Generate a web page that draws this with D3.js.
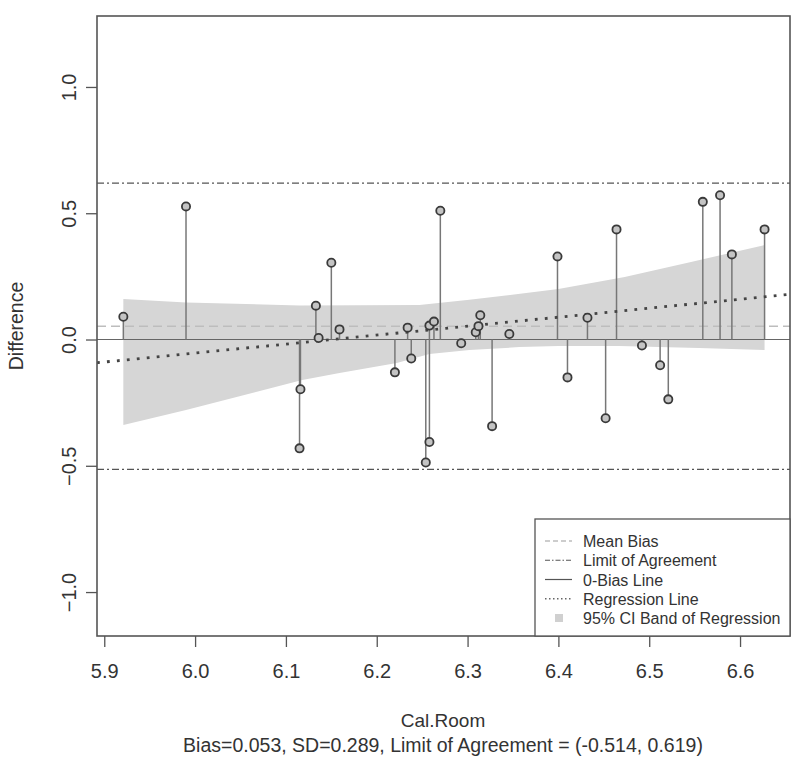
<!DOCTYPE html>
<html>
<head>
<meta charset="utf-8">
<script src="https://cdn.jsdelivr.net/npm/d3@7"></script>
<style>
  body { margin: 0; background: #fff; }
  svg text { font-family: "Liberation Sans", Arial, sans-serif; fill: #333; }
</style>
</head>
<body>
<svg id="chart" width="800" height="760"></svg>
<script>
// ---- data ----
const xVals = [5.921, 5.990, 6.115, 6.116, 6.133, 6.136, 6.150, 6.159, 6.220, 6.234, 6.238, 6.254, 6.258, 6.258, 6.263, 6.270, 6.293, 6.309, 6.312, 6.314, 6.327, 6.346, 6.399, 6.410, 6.432, 6.452, 6.464, 6.492, 6.512, 6.521, 6.559, 6.578, 6.591, 6.627];
const yVals = [0.090, 0.527, -0.431, -0.197, 0.134, 0.006, 0.304, 0.040, -0.130, 0.047, -0.075, -0.487, -0.406, 0.055, 0.071, 0.510, -0.015, 0.029, 0.053, 0.096, -0.343, 0.022, 0.329, -0.150, 0.086, -0.312, 0.436, -0.024, -0.102, -0.237, 0.545, 0.571, 0.337, 0.436];
const bandUpperX = [5.921, 5.990, 6.115, 6.247, 6.302, 6.400, 6.473, 6.546, 6.627];
const bandUpperY = [0.160, 0.147, 0.135, 0.137, 0.157, 0.200, 0.248, 0.307, 0.374];
const bandLowerX = [5.921, 5.990, 6.118, 6.159, 6.222, 6.258, 6.302, 6.357, 6.400, 6.467, 6.555, 6.627];
const bandLowerY = [-0.339, -0.279, -0.160, -0.133, -0.093, -0.057, -0.042, -0.030, -0.026, -0.026, -0.034, -0.042];
const regX = [5.892, 6.655];
const regY = [-0.092, 0.179];
const meanBias = 0.053;
const limits = [-0.514, 0.619];
const xTicks = [5.9, 6.0, 6.1, 6.2, 6.3, 6.4, 6.5, 6.6];
const yTicks = [-1.0, -0.5, 0.0, 0.5, 1.0];
const legendLabels = ["Mean Bias", "Limit of Agreement", "0-Bias Line", "Regression Line", "95% CI Band of Regression"];
const xTitle = "Cal.Room";
const yTitle = "Difference";
const subTitle = "Bias=0.053, SD=0.289, Limit of Agreement = (-0.514, 0.619)";

// ---- layout ----
const L = 97, R = 790, T = 16, B = 636;
const svg = d3.select("#chart");
const x = d3.scaleLinear().domain([5.892, 6.655]).range([L, R]);
const y = d3.scaleLinear().domain([-1.174, 1.281]).range([B, T]);

const g = svg.append("g");
g.append("clipPath").attr("id", "clip").append("rect")
  .attr("x", L).attr("y", T).attr("width", R - L).attr("height", B - T);
const plot = g.append("g").attr("clip-path", "url(#clip)");

// CI band
const bandPts = bandUpperX.map((d, i) => [x(d), y(bandUpperY[i])])
  .concat(bandLowerX.map((d, i) => [x(d), y(bandLowerY[i])]).reverse());
plot.append("path")
  .attr("d", d3.line()(bandPts) + "Z")
  .attr("fill", "#d6d6d6").attr("stroke", "none");

// limits of agreement
limits.forEach(v => {
  plot.append("line").attr("x1", L).attr("x2", R).attr("y1", y(v)).attr("y2", y(v))
    .attr("stroke", "#555").attr("stroke-width", 1.3).attr("stroke-dasharray", "7,3,2,3");
});
// mean bias
plot.append("line").attr("x1", L).attr("x2", R).attr("y1", y(meanBias)).attr("y2", y(meanBias))
  .attr("stroke", "#bdbdbd").attr("stroke-width", 1.5).attr("stroke-dasharray", "9,5");
// zero line
plot.append("line").attr("x1", L).attr("x2", R).attr("y1", y(0)).attr("y2", y(0))
  .attr("stroke", "#666").attr("stroke-width", 1.2);

// stems
plot.selectAll("line.stem").data(xVals).enter().append("line").attr("class", "stem")
  .attr("x1", d => x(d)).attr("x2", d => x(d))
  .attr("y1", y(0)).attr("y2", (d, i) => y(yVals[i]))
  .attr("stroke", "#777").attr("stroke-width", 1.5);

// regression line
plot.append("line")
  .attr("x1", x(regX[0])).attr("y1", y(regY[0]))
  .attr("x2", x(regX[1])).attr("y2", y(regY[1]))
  .attr("stroke", "#444").attr("stroke-width", 2.8).attr("stroke-dasharray", "2.8,7.2");

// points
plot.selectAll("circle.pt").data(xVals).enter().append("circle").attr("class", "pt")
  .attr("cx", d => x(d)).attr("cy", (d, i) => y(yVals[i])).attr("r", 4.1)
  .attr("fill", "#c4c4c4").attr("stroke", "#3a3a3a").attr("stroke-width", 1.8);

// frame
g.append("rect").attr("x", L).attr("y", T).attr("width", R - L).attr("height", B - T)
  .attr("fill", "none").attr("stroke", "#555").attr("stroke-width", 1.6);

// x axis
const xAxis = g.append("g").attr("transform", `translate(0,${B})`)
  .call(d3.axisBottom(x).tickValues(xTicks).tickSize(11).tickFormat(d3.format(".1f")));
xAxis.select(".domain").remove();
xAxis.selectAll(".tick line").attr("stroke", "#555").attr("stroke-width", 1.3);
xAxis.selectAll(".tick text").attr("dy", null).attr("y", 42)
  .style("font-size", "20px").style("font-family", "Liberation Sans, Arial, sans-serif").attr("fill", "#333");

// y axis
const yAxis = g.append("g").attr("transform", `translate(${L},0)`)
  .call(d3.axisLeft(y).tickValues(yTicks).tickSize(11).tickFormat(d3.format(".1f")));
yAxis.select(".domain").remove();
yAxis.selectAll(".tick line").attr("stroke", "#555").attr("stroke-width", 1.3);
yAxis.selectAll(".tick text")
  .attr("x", null).attr("dy", null)
  .attr("text-anchor", "middle")
  .attr("transform", "translate(-21,0) rotate(-90)")
  .style("font-size", "20px").style("font-family", "Liberation Sans, Arial, sans-serif").attr("fill", "#333");

// titles
svg.append("text").attr("x", 443).attr("y", 727).attr("text-anchor", "middle")
  .style("font-size", "19px").text(xTitle);
svg.append("text").attr("x", 443).attr("y", 752).attr("text-anchor", "middle")
  .style("font-size", "19.5px").text(subTitle);
svg.append("text").attr("transform", `translate(23,${(T + B) / 2}) rotate(-90)`)
  .attr("text-anchor", "middle").style("font-size", "19.5px").text(yTitle);

// legend
const lg = g.append("g");
lg.append("rect").attr("x", 535).attr("y", 519).attr("width", R - 535).attr("height", B - 519)
  .attr("fill", "#fff").attr("stroke", "#555").attr("stroke-width", 1.3);
const rowY = d3.scalePoint().domain(legendLabels).range([541, 618]);
const styles = [
  {stroke: "#bdbdbd", dash: "5,3", w: 1.3},
  {stroke: "#555", dash: "5,2,1.5,2", w: 1.2},
  {stroke: "#555", dash: null, w: 1.2},
  {stroke: "#666", dash: "1.5,2.5", w: 1.3},
  null
];
legendLabels.forEach((lab, i) => {
  const yy = rowY(lab);
  if (styles[i]) {
    lg.append("line").attr("x1", 545).attr("x2", 572).attr("y1", yy).attr("y2", yy)
      .attr("stroke", styles[i].stroke).attr("stroke-width", styles[i].w)
      .attr("stroke-dasharray", styles[i].dash);
  } else {
    lg.append("rect").attr("x", 555).attr("y", yy - 4).attr("width", 8).attr("height", 8)
      .attr("fill", "#d0d0d0");
  }
  lg.append("text").attr("x", 583).attr("y", yy + 6).style("font-size", "16px").text(lab);
});
</script>
</body>
</html>
